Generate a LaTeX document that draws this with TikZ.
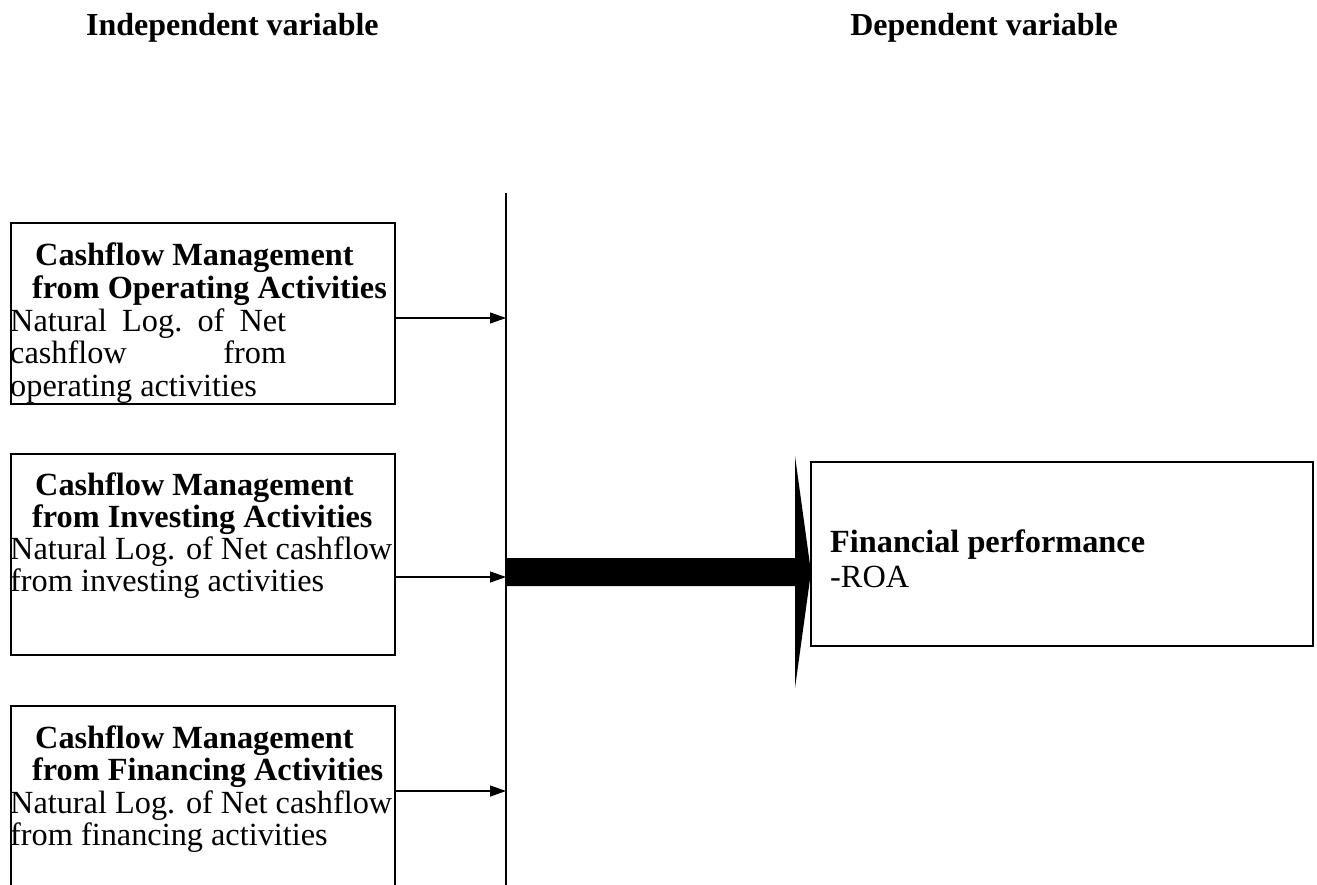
\documentclass[tikz,border=0pt]{standalone}
\usepackage{fontspec}
\setmainfont{Liberation Serif}
\usetikzlibrary{arrows.meta}
\tikzset{
  ivbox/.style={draw, line width=2pt, rectangle, inner sep=0pt, anchor=north west},
  txt/.style={anchor=base west, inner sep=0pt, font=\fontsize{32.3}{33}\selectfont},
  btxt/.style={txt, font=\fontsize{32.3}{33}\selectfont\bfseries},
  hdr/.style={inner sep=0pt, font=\fontsize{32}{33}\selectfont\bfseries},
  link/.style={line width=1.3pt, -{Triangle[length=16pt,width=11pt]}},
}
\begin{document}
\begin{tikzpicture}[x=1pt,y=-1pt]
\useasboundingbox (0,0) rectangle (1317,884);
\clip (0,0) rectangle (1317,884);
% headers
\node[hdr, anchor=base west] (hind) at (86,35) {Independent variable};
\node[hdr, anchor=base east] (hdep) at (1118,35) {Dependent variable};
% boxes
\node[ivbox, minimum width=384pt, minimum height=181pt] (box1) at (10,222) {};
\node[ivbox, minimum width=384pt, minimum height=201pt] (box2) at (10,453) {};
\node[ivbox, minimum width=384pt, minimum height=200pt] (box3) at (10,705) {};
\node[draw, line width=1.6pt, rectangle, inner sep=0pt, anchor=north west, minimum width=502pt, minimum height=184pt] (box4) at (810,461) {};
% box 1 text
\node[btxt] (t11) at (35,265) {Cashflow Management};
\node[btxt] (t12) at (32,298) {from Operating Activities};
\node[txt] (t13) at (10,331) {\hbox to 276pt{Natural\hfill Log.\hfill of\hfill Net}};
\node[txt] (t14) at (10,363) {\hbox to 276pt{cashflow\hfill from}};
\node[txt] (t15) at (10,396) {operating activities};
% box 2 text
\node[btxt] (t21) at (35,495) {Cashflow Management};
\node[btxt] (t22) at (32,527) {from Investing Activities};
\node[txt] (t23) at (10,559) {Natural Log. of Net cashflow};
\node[txt] (t24) at (10,591) {from investing activities};
% box 3 text
\node[btxt] (t31) at (35,748) {Cashflow Management};
\node[btxt] (t32) at (32,780) {from Financing Activities};
\node[txt] (t33) at (10,813) {Natural Log. of Net cashflow};
\node[txt] (t34) at (10,845) {from financing activities};
% box 4 text
\node[btxt] (t41) at (830,552) {Financial performance};
\node[txt] (t42) at (830,587) {-ROA};
% vertical line
\coordinate (vtop) at (506,193);
\coordinate (vbot) at (506,890);
\draw[line width=2pt] (vtop) -- (vbot);
\coordinate (j1) at (506,318);
\coordinate (j2) at (506,577);
\coordinate (j3) at (506,791);
\draw[link] (box1.east |- j1) -- (j1);
\draw[link] (box2.east |- j2) -- (j2);
\draw[link] (box3.east |- j3) -- (j3);
% big arrow
\coordinate (tip) at (811,572);
\fill (506,558) -- (795,558) -- (795,456) -- (tip) -- (795,688) -- (795,586) -- (506,586) -- cycle;
\end{tikzpicture}
\end{document}
